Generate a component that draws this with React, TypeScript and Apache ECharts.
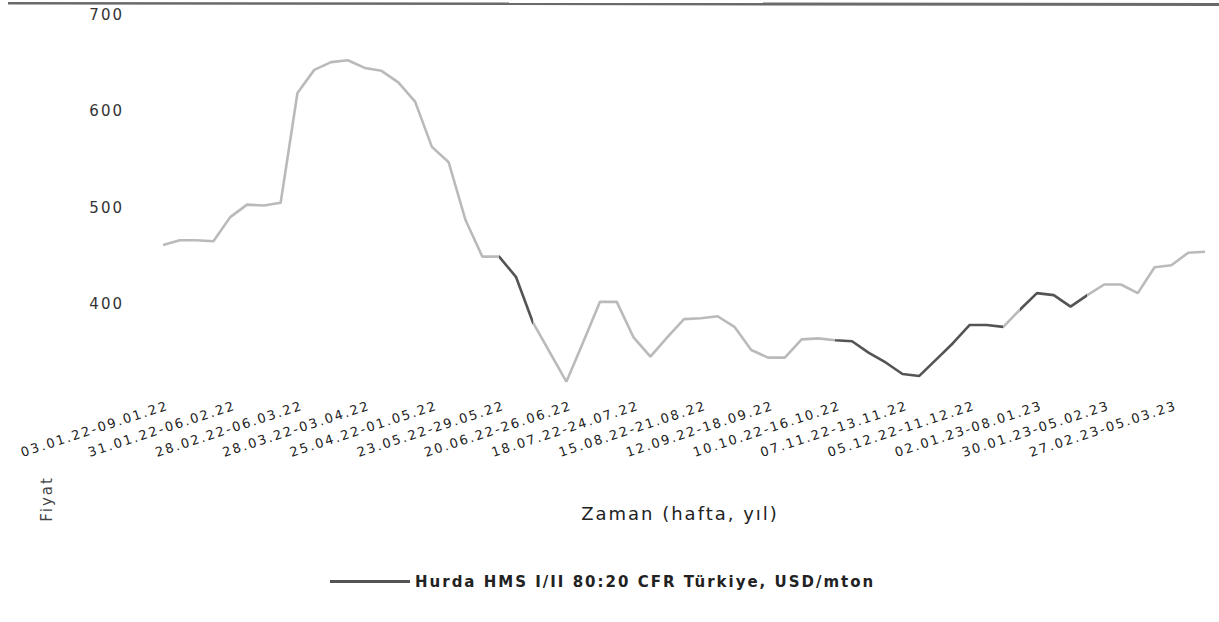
import React, { useEffect, useRef } from "react";
import * as echarts from "echarts";

const weeks: string[] = [
  "03.01.22-09.01.22", "10.01.22-16.01.22", "17.01.22-23.01.22", "24.01.22-30.01.22",
  "31.01.22-06.02.22", "07.02.22-13.02.22", "14.02.22-20.02.22", "21.02.22-27.02.22",
  "28.02.22-06.03.22", "07.03.22-13.03.22", "14.03.22-20.03.22", "21.03.22-27.03.22",
  "28.03.22-03.04.22", "04.04.22-10.04.22", "11.04.22-17.04.22", "18.04.22-24.04.22",
  "25.04.22-01.05.22", "02.05.22-08.05.22", "09.05.22-15.05.22", "16.05.22-22.05.22",
  "23.05.22-29.05.22", "30.05.22-05.06.22", "06.06.22-12.06.22", "13.06.22-19.06.22",
  "20.06.22-26.06.22", "27.06.22-03.07.22", "04.07.22-10.07.22", "11.07.22-17.07.22",
  "18.07.22-24.07.22", "25.07.22-31.07.22", "01.08.22-07.08.22", "08.08.22-14.08.22",
  "15.08.22-21.08.22", "22.08.22-28.08.22", "29.08.22-04.09.22", "05.09.22-11.09.22",
  "12.09.22-18.09.22", "19.09.22-25.09.22", "26.09.22-02.10.22", "03.10.22-09.10.22",
  "10.10.22-16.10.22", "17.10.22-23.10.22", "24.10.22-30.10.22", "31.10.22-06.11.22",
  "07.11.22-13.11.22", "14.11.22-20.11.22", "21.11.22-27.11.22", "28.11.22-04.12.22",
  "05.12.22-11.12.22", "12.12.22-18.12.22", "19.12.22-25.12.22", "26.12.22-01.01.23",
  "02.01.23-08.01.23", "09.01.23-15.01.23", "16.01.23-22.01.23", "23.01.23-29.01.23",
  "30.01.23-05.02.23", "06.02.23-12.02.23", "13.02.23-19.02.23", "20.02.23-26.02.23",
  "27.02.23-05.03.23", "06.03.23-12.03.23", "13.03.23-19.03.23",
];

const prices: number[] = [
  461, 466, 466, 465, 490, 503, 502, 505, 619, 643, 651, 653, 645, 642, 630, 610,
  563, 547, 487, 449, 449, 428, 381, 350, 319, 360, 402, 402, 365, 345, 365, 384,
  385, 387, 376, 352, 344, 344, 363, 364, 362, 361, 349, 339, 327, 325, 342, 359,
  378, 378, 376, 394, 411, 409, 397, 409, 420, 420, 411, 438, 440, 453, 454,
];

const seriesName = "Hurda HMS I/II 80:20 CFR Türkiye, USD/mton";
const yAxisTitle = "Fiyat";
const xAxisTitle = "Zaman (hafta, yıl)";

const LIGHT = "#bababa";
const DARK = "#545454";

export default function App() {
  const ref = useRef<HTMLDivElement>(null);
  useEffect(() => {
    if (!ref.current) return;
    const chart = echarts.init(ref.current, null, { renderer: "svg" });
    const font = "'DejaVu Sans', Verdana, sans-serif";
    chart.setOption({
      animation: false,
      backgroundColor: "#ffffff",
      grid: [
        { left: 163, right: 14, top: 15, bottom: 222 },
        { left: 168, right: 9, top: 15, bottom: 222 },
      ],
      xAxis: [
        {
          type: "category",
          data: weeks,
          boundaryGap: false,
          axisLine: { show: false },
          axisTick: { show: false },
          axisLabel: { show: false },
        },
        {
          type: "category",
          gridIndex: 1,
          data: weeks,
          boundaryGap: false,
          axisLine: { show: false },
          axisTick: { show: false },
          axisLabel: {
            interval: 3,
            rotate: 18,
            margin: 5,
            fontFamily: font,
            fontSize: 13,
            color: "#222",
          },
        },
      ],
      yAxis: [
        {
          type: "value",
          min: 300,
          max: 700,
          interval: 100,
          axisLine: { show: false },
          axisTick: { show: false },
          splitLine: { show: false },
          axisLabel: {
            showMinLabel: false,
            margin: 39,
            fontFamily: font,
            fontSize: 15,
            color: "#333",
          },
        },
        {
          type: "value",
          gridIndex: 1,
          min: 300,
          max: 700,
          show: false,
          splitLine: { show: false },
        },
      ],
      visualMap: {
        show: false,
        type: "piecewise",
        dimension: 0,
        seriesIndex: 0,
        pieces: [
          { gte: 0, lt: 16.5, color: LIGHT },
          { gte: 16.5, lt: 17.1, color: DARK },
          { gte: 17.1, lt: 20.4, color: LIGHT },
          { gte: 20.4, lt: 22.1, color: DARK },
          { gte: 22.1, lt: 40, color: LIGHT },
          { gte: 40, lt: 50, color: DARK },
          { gte: 50, lt: 50.7, color: LIGHT },
          { gte: 50.7, lt: 54.6, color: DARK },
          { gte: 54.6, lte: 62, color: LIGHT },
        ],
      },
      legend: {
        left: 325,
        top: 569,
        icon: "rect",
        itemWidth: 80,
        itemHeight: 3,
        itemGap: 10,
        data: [{ name: seriesName, itemStyle: { color: DARK } }],
        textStyle: { fontFamily: font, fontSize: 15, fontWeight: "bold", color: "#222" },
      },
      graphic: [
        {
          type: "polygon",
          z: 100,
          shape: { points: [[8, 2], [1219, 3], [1219, 6], [8, 4.5]] },
          style: { fill: "#6a6a6a" },
        },
        {
          type: "text",
          x: 47,
          y: 499,
          rotation: Math.PI / 2,
          style: {
            text: yAxisTitle,
            font: "15px 'DejaVu Sans', sans-serif",
            fill: "#444",
            align: "center",
            verticalAlign: "middle",
          },
        },
        {
          type: "text",
          x: 680,
          y: 513,
          style: {
            text: xAxisTitle,
            font: "18px 'DejaVu Sans', sans-serif",
            fill: "#222",
            align: "center",
            verticalAlign: "middle",
          },
        },
      ],
      series: [
        {
          name: seriesName,
          type: "line",
          data: prices,
          showSymbol: false,
          symbol: "none",
          itemStyle: { color: DARK },
          lineStyle: { width: 2.6 },
        },
      ],
    });
    return () => chart.dispose();
  }, []);
  return (
    <div
      ref={ref}
      style={{
        position: "fixed",
        left: 0,
        top: 0,
        width: 1219,
        height: 622,
        letterSpacing: "2px",
      }}
    />
  );
}
